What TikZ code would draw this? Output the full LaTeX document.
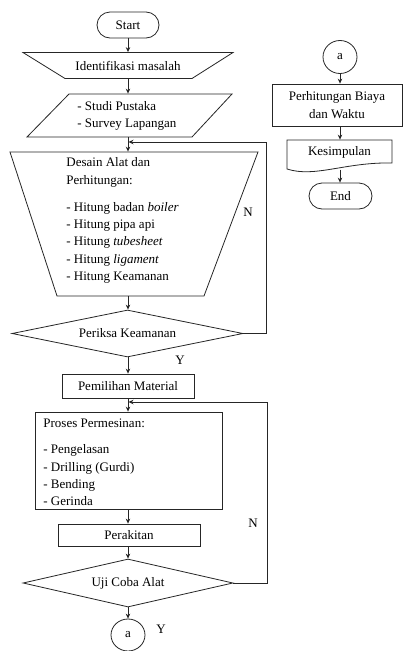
\documentclass[tikz,border=0pt]{standalone}
\usepackage{fontspec}
\setmainfont{Liberation Serif}
\usetikzlibrary{arrows.meta,shapes.geometric,calc}
\begin{document}
\begin{tikzpicture}[x=1pt,y=-1pt,line width=0.8pt,
  every node/.style={font=\fontsize{13}{17.3}\selectfont,inner sep=0pt,text=black},
  arr/.style={-{Stealth[length=5pt,width=4.5pt]}}]
\useasboundingbox (0,0) rectangle (403,651);
\fill[white] (0,0) rectangle (403,651);
\begin{scope}[color=black!85]
% left column
\node[draw,rounded corners=13pt,minimum width=62pt,minimum height=26pt] (start) at (128,25) {Start};

\node[minimum width=210pt,minimum height=26pt] (idm) at (128,65.5) {Identifikasi masalah};
\draw (23,52.5) -- (233,52.5) -- (192,78.5) -- (65,78.5) -- cycle;

\node[minimum width=205pt,minimum height=43pt] (sp) at (129.5,115.5) {};
\draw (69,94) -- (232,94) -- (192,137) -- (27,137) -- cycle;
\node[anchor=west,align=left] (sptext) at (77,116) {- Studi Pustaka\\- Survey Lapangan};

\node[minimum width=248pt,minimum height=144pt] (des) at (134,224) {};
\draw (10,152) -- (258,152) -- (204,296) -- (57,296) -- cycle;
\node[anchor=west,align=left] (destext) at (66,220.5) {Desain Alat dan\\Perhitungan:\\[10pt]- Hitung badan \textit{boiler}\\- Hitung pipa api\\- Hitung \textit{tubesheet}\\- Hitung \textit{ligament}\\- Hitung Keamanan};

\node[draw,diamond,aspect=4.9,minimum width=231pt,minimum height=47pt] (pk) at (127.5,333.5) {Periksa Keamanan};

\node[draw,minimum width=132pt,minimum height=24pt] (pm) at (128,386) {Pemilihan Material};

\node[draw,minimum width=187pt,minimum height=97pt] (pp) at (128.5,460.5) {};
\node[anchor=west,align=left] (pptext) at (43,462.5) {Proses Permesinan:\\[9pt]- Pengelasan\\- Drilling (Gurdi)\\- Bending\\- Gerinda};

\node[draw,minimum width=142pt,minimum height=22pt] (prk) at (129,535) {Perakitan};
\node[draw,diamond,aspect=4.4,minimum width=210pt,minimum height=48pt] (uji) at (128,583) {Uji Coba Alat};
\node[draw,ellipse,minimum width=34pt,minimum height=32pt] (ca) at (128,635) {a};

% right column
\node[draw,ellipse,minimum width=34pt,minimum height=33pt] (cb) at (340,57) {a};
\node[draw,minimum width=130pt,minimum height=42pt,align=center] (phb) at (337,105) {Perhitungan Biaya\\dan Waktu};
\node[minimum width=105pt,minimum height=24pt] (ksm) at (339.5,152) {Kesimpulan};
\draw (287,140) -- (392,140) -- (392,163) .. controls (345,162) and (315,178) .. (287,169) -- cycle;
\coordinate (ksmb) at (340,169.5);
\node[draw,rounded corners=13pt,minimum width=63pt,minimum height=26pt] (end) at (340.5,196) {End};

% labels
\node (n1) at (248,212) {N};
\node (n2) at (253,523) {N};
\node (y1) at (180,360) {Y};
\node (y2) at (161,629) {Y};

% connectors
\draw[arr] (start.south) -- (idm.north);
\draw[arr] (idm.south) -- (idm.south |- sp.north);
\draw[arr] (start |- sp.south) -- (start |- des.north);
\draw[arr] (start |- des.south) -- (start |- pk.north);
\draw[arr] (start |- pk.south) -- (start |- pm.north);
\coordinate (j1) at (128.5,142);
\draw[arr] (pk.east) -- ++(22.5,0) |- (j1);
\draw[arr] (start |- pm.south) -- (start |- pp.north);
\coordinate (j2) at (128.5,402);
\draw[arr] (uji.east) -- ++(34,0) |- (j2);
\draw[arr] (start |- pp.south) -- (start |- prk.north);
\draw[arr] (start |- prk.south) -- (start |- uji.north);
\draw[arr] (uji.south) -- (ca.north);
\draw[arr] (cb.south) -- (cb.south |- phb.north);
\draw[arr] (cb.south |- phb.south) -- (cb.south |- ksm.north);
\draw[arr] (ksmb) -- (ksmb |- end.north);
\end{scope}
\end{tikzpicture}
\end{document}
